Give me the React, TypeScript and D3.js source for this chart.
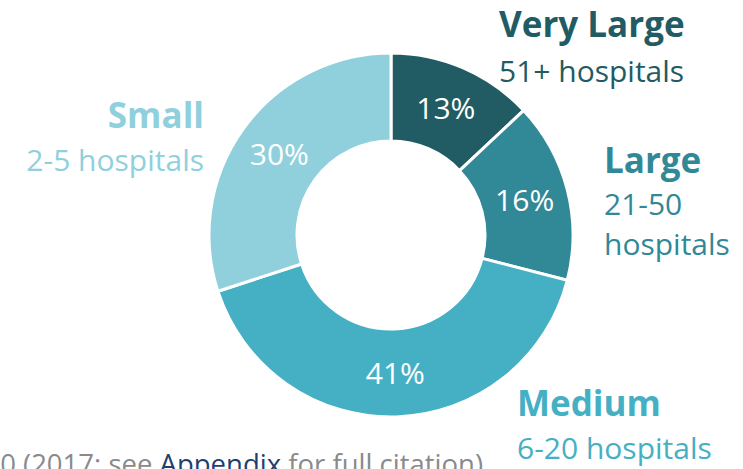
import React from "react";
import * as d3 from "d3";

const categories = ["Very Large", "Large", "Medium", "Small"];
const subLabels = ["51+ hospitals", "21-50 hospitals", "6-20 hospitals", "2-5 hospitals"];
const shares = [13, 16, 41, 30];
const colors = ["#215c64", "#318896", "#45b0c4", "#8fd0dc"];

const W = 743;
const H = 469;
const cx = 391;
const cy = 235;
const outerR = 182;
const innerR = 94;
const FONT = "'Open Sans', 'Noto Sans', sans-serif";
const BOLD = 35;
const NORM = 30;

export default function App() {
  const pie = d3.pie<number>().sort(null).value((d) => d)(shares);
  const arc = d3.arc<d3.PieArcDatum<number>>().innerRadius(innerR).outerRadius(outerR);
  const labelArc = d3
    .arc<d3.PieArcDatum<number>>()
    .innerRadius((innerR + outerR) / 2)
    .outerRadius((innerR + outerR) / 2);

  return (
    <svg
      width={W}
      height={H}
      style={{ position: "absolute", left: 0, top: 0, background: "#fff" }}
      fontFamily={FONT}
    >
      <g transform={`translate(${cx},${cy})`}>
        {pie.map((p, i) => (
          <path key={i} d={arc(p) || ""} fill={colors[i]} stroke="#fff" strokeWidth={3} />
        ))}
        {pie.map((p, i) => {
          const [x, y] = labelArc.centroid(p);
          return (
            <text
              key={"t" + i}
              x={x}
              y={y}
              dy="0.36em"
              textAnchor="middle"
              fill="#fff"
              fontSize={30}
            >
              {shares[i]}%
            </text>
          );
        })}
      </g>
      {/* Very Large */}
      <text x={499} y={37} fill={colors[0]} fontSize={BOLD} fontWeight="bold">{categories[0]}</text>
      <text x={499} y={82} fill={colors[0]} fontSize={NORM}>{subLabels[0]}</text>
      {/* Large */}
      <text x={604} y={173} fill={colors[1]} fontSize={BOLD} fontWeight="bold">{categories[1]}</text>
      <text x={604} y={215} fill={colors[1]} fontSize={NORM}>{subLabels[1].split(" ")[0]}</text>
      <text x={604} y={255} fill={colors[1]} fontSize={NORM}>{subLabels[1].split(" ")[1]}</text>
      {/* Medium */}
      <text x={517} y={416} fill={colors[2]} fontSize={BOLD} fontWeight="bold">{categories[2]}</text>
      <text x={517} y={459} fill={colors[2]} fontSize={NORM}>{subLabels[2]}</text>
      {/* Small */}
      <text x={204} y={128} textAnchor="end" fill={colors[3]} fontSize={BOLD} fontWeight="bold">{categories[3]}</text>
      <text x={204} y={171} textAnchor="end" fill={colors[3]} fontSize={NORM}>{subLabels[3]}</text>
      {/* footer */}
      <text x={483} y={474} textAnchor="end" fill="#8a8a8a" fontSize={27.5}>
        0 (2017; see <tspan fill="#1f3f6e">Appendix</tspan> for full citation)
      </text>
    </svg>
  );
}
